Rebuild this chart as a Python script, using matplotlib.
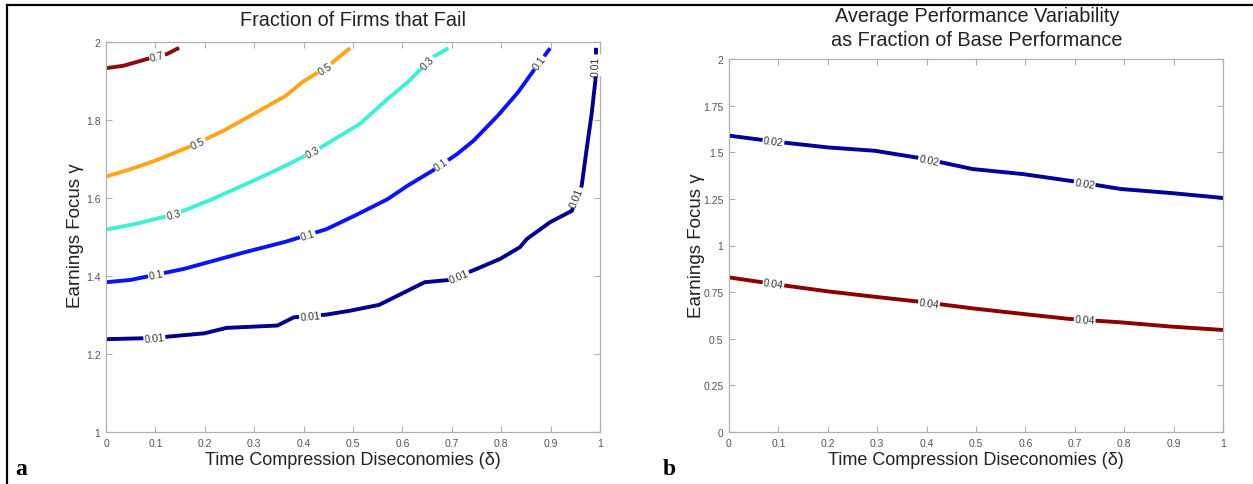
import numpy as np
import matplotlib
matplotlib.use("Agg")
import matplotlib.pyplot as plt
from matplotlib.lines import Line2D

plt.rcParams['font.family'] = ['Liberation Sans', 'DejaVu Sans']

# panel a: contour lines of fraction of firms that fail
a_levels = ['0.01', '0.1', '0.3', '0.5', '0.7']
a_colors = ['#00008c', '#0a14f5', '#3ff0d2', '#ffa41c', '#8a0c0c']
a_x = [
    [0, 0.095, 0.199, 0.244, 0.347, 0.38, 0.446, 0.494, 0.553, 0.645, 0.696, 0.75,
     0.798, 0.838, 0.852, 0.899, 0.943, 0.949, 0.963, 0.973, 0.983, 0.991, 0.992],
    [0, 0.05, 0.157, 0.281, 0.364, 0.446, 0.504, 0.570, 0.611, 0.661, 0.711, 0.744,
     0.793, 0.834, 0.868, 0.899],
    [0, 0.058, 0.141, 0.215, 0.298, 0.364, 0.43, 0.514, 0.570, 0.611, 0.661, 0.693],
    [0, 0.05, 0.1, 0.174, 0.24, 0.298, 0.364, 0.397, 0.446, 0.494],
    [0, 0.035, 0.082, 0.123, 0.148],
]
a_y = [
    [1.238, 1.241, 1.253, 1.267, 1.273, 1.294, 1.301, 1.311, 1.326, 1.384, 1.39, 1.418,
     1.444, 1.474, 1.495, 1.538, 1.567, 1.587, 1.632, 1.726, 1.815, 1.905, 1.985],
    [1.384, 1.39, 1.418, 1.461, 1.488, 1.52, 1.555, 1.597, 1.632, 1.67, 1.713, 1.747,
     1.811, 1.871, 1.931, 1.984],
    [1.519, 1.533, 1.559, 1.597, 1.644, 1.683, 1.726, 1.79, 1.854, 1.897, 1.961, 1.984],
    [1.655, 1.674, 1.696, 1.734, 1.774, 1.815, 1.862, 1.897, 1.935, 1.984],
    [1.933, 1.939, 1.956, 1.969, 1.985],
]
# approximate spots of the inline labels
a_lab = [
    [(0.098, 1.24), (0.413, 1.297), (0.715, 1.397), (0.955, 1.60), (0.991, 1.94)],
    [(0.101, 1.405), (0.407, 1.51), (0.678, 1.687), (0.88, 1.944)],
    [(0.137, 1.556), (0.418, 1.718), (0.657, 1.94)],
    [(0.188, 1.738), (0.444, 1.93)],
    [(0.104, 1.96)],
]

# panel b: performance variability
b_levels = ['0.02', '0.04']
b_colors = ['#00009a', '#8c0000']
b_x = [0, 0.1, 0.2, 0.295, 0.398, 0.493, 0.595, 0.69, 0.793, 0.896, 1.0]
b_y = [
    [1.589, 1.555, 1.526, 1.508, 1.464, 1.41, 1.383, 1.347, 1.303, 1.281, 1.255],
    [0.829, 0.79, 0.754, 0.725, 0.695, 0.663, 0.633, 0.606, 0.588, 0.565, 0.547],
]
b_lab_x = [0.09, 0.405, 0.72]

xticks = [0, 0.1, 0.2, 0.3, 0.4, 0.5, 0.6, 0.7, 0.8, 0.9, 1]
xticklabels = ['0', '0.1', '0.2', '0.3', '0.4', '0.5', '0.6', '0.7', '0.8', '0.9', '1']
a_yticks = [1, 1.2, 1.4, 1.6, 1.8, 2]
a_yticklabels = ['1', '1.2', '1.4', '1.6', '1.8', '2']
b_yticks = [0, 0.25, 0.5, 0.75, 1, 1.25, 1.5, 1.75, 2]
b_yticklabels = ['0', '0.25', '0.5', '0.75', '1', '1.25', '1.5', '1.75', '2']


def style_axes(ax):
    for s in ax.spines.values():
        s.set_color('#b0b0b0')
        s.set_linewidth(0.9)
    ax.tick_params(direction='in', length=4, width=0.8, color='#b0b0b0',
                   labelsize=7.5, labelcolor='#555555', top=True, right=True, pad=4)


def inline_label(ax, xs, ys, px, py, text, color='#333333'):
    # snap label to nearest point on the polyline (in screen space)
    pts = ax.transData.transform(np.column_stack([xs, ys]))
    p = ax.transData.transform((px, py))
    best = None
    for i in range(len(pts) - 1):
        a, b = pts[i], pts[i + 1]
        d = b - a
        t = np.clip(np.dot(p - a, d) / max(np.dot(d, d), 1e-9), 0, 1)
        q = a + t * d
        dist = np.hypot(*(p - q))
        if best is None or dist < best[0]:
            best = (dist, q, d)
    _, q, d = best
    ang = np.degrees(np.arctan2(d[1], d[0]))
    if ang > 90:
        ang -= 180
    if ang < -90:
        ang += 180
    qx, qy = ax.transData.inverted().transform(q)
    ax.text(qx, qy, text, fontsize=7.5, color=color, rotation=ang,
            rotation_mode='anchor', ha='center', va='center',
            bbox=dict(facecolor='white', edgecolor='none', pad=0.6), zorder=5)


fig = plt.figure(figsize=(12.53, 4.85), dpi=100)

# panel a
ax1 = fig.add_axes([106 / 1253, 52 / 485, 494 / 1253, 390 / 485])
ax1.set_xlim(0, 1)
ax1.set_ylim(1, 2)
for xs, ys, c in zip(a_x, a_y, a_colors):
    ax1.plot(xs, ys, color=c, lw=2.8, solid_capstyle='butt')
for xs, ys, labs, t in zip(a_x, a_y, a_lab, a_levels):
    for px, py in labs:
        inline_label(ax1, xs, ys, px, py, t)
ax1.set_xticks(xticks)
ax1.set_xticklabels(xticklabels)
ax1.set_yticks(a_yticks)
ax1.set_yticklabels(a_yticklabels)
style_axes(ax1)

# panel b
ax2 = fig.add_axes([729 / 1253, 52 / 485, 494 / 1253, 373 / 485])
ax2.set_xlim(0, 1)
ax2.set_ylim(0, 2)
for ys, c in zip(b_y, b_colors):
    ax2.plot(b_x, ys, color=c, lw=2.8)
for ys, t in zip(b_y, b_levels):
    for px in b_lab_x:
        inline_label(ax2, b_x, ys, px, np.interp(px, b_x, ys), t)
ax2.set_xticks(xticks)
ax2.set_xticklabels(xticklabels)
ax2.set_yticks(b_yticks)
ax2.set_yticklabels(b_yticklabels)
style_axes(ax2)

txt = '#222222'
fig.text(353 / 1253, 1 - 20 / 485, 'Fraction of Firms that Fail',
         ha='center', va='center', fontsize=14.3, color=txt)
fig.text(977 / 1253, 1 - 17 / 485, 'Average Performance Variability',
         ha='center', va='center', fontsize=14.3, color=txt)
fig.text(977 / 1253, 1 - 41 / 485, 'as Fraction of Base Performance',
         ha='center', va='center', fontsize=14.3, color=txt)
fig.text(353 / 1253, 1 - 461 / 485, 'Time Compression Diseconomies (δ)',
         ha='center', va='center', fontsize=13, color=txt)
fig.text(976 / 1253, 1 - 461 / 485, 'Time Compression Diseconomies (δ)',
         ha='center', va='center', fontsize=13, color=txt)
fig.text(76 / 1253, 1 - 236 / 485, 'Earnings Focus γ', rotation=90,
         ha='center', va='center', fontsize=13.5, color=txt)
fig.text(697 / 1253, 1 - 246 / 485, 'Earnings Focus γ', rotation=90,
         ha='center', va='center', fontsize=13.5, color=txt)

fig.text(21 / 1253, 1 - 470 / 485, 'a', family='Liberation Serif', weight='bold',
         fontsize=17, ha='center', va='center')
fig.text(669 / 1253, 1 - 470 / 485, 'b', family='Liberation Serif', weight='bold',
         fontsize=17, ha='center', va='center')

# frame lines at top and left
fig.add_artist(Line2D([7 / 1253, 1], [1 - 6 / 485, 1 - 6 / 485], color='black', lw=1.6))
fig.add_artist(Line2D([7 / 1253, 7 / 1253], [0, 1 - 6 / 485], color='black', lw=1.6))

fig.savefig('out.png', dpi=100)
